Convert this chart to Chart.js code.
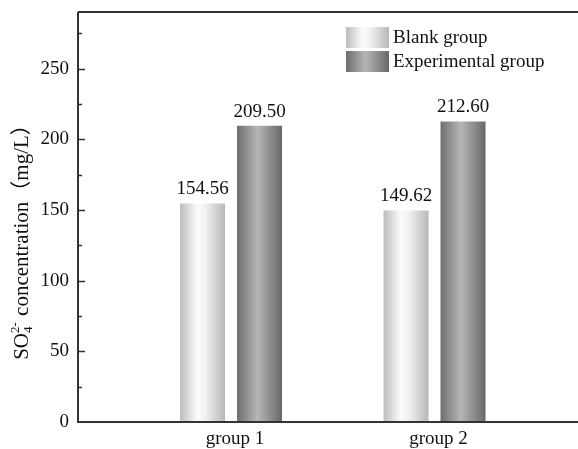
<!DOCTYPE html>
<html>
<head>
<meta charset="utf-8">
<script src="https://cdn.jsdelivr.net/npm/chart.js@4/dist/chart.umd.min.js"></script>
<style>
  html, body { margin: 0; padding: 0; background: #fff; }
  #wrap { position: relative; width: 578px; height: 449px; }
</style>
</head>
<body>
<div id="wrap"><canvas id="c"></canvas></div>
<script>
// Sulfate concentration per group
const categories = ['group 1', 'group 2'];
const seriesNames = ['Blank group', 'Experimental group'];
const blankValues = [154.56, 149.62];
const experimentalValues = [209.50, 212.60];
const yTickValues = [0, 50, 100, 150, 200, 250];

const FONT = '"Liberation Serif", "Times New Roman", "Noto Sans CJK SC", serif';
const FS = 19;
const AXIS_COLOR = '#333333';

// cylinder-like horizontal shading for each series
const shading = [
  [[0, '#bcbcbc'], [0.38, '#fbfbfb'], [0.55, '#f2f2f2'], [1, '#b8b8b8']],
  [[0, '#6e6e6e'], [0.45, '#b6b6b6'], [1, '#686868']]
];

function makeGradient(ctx, x0, x1, stops) {
  const g = ctx.createLinearGradient(x0, 0, x1, 0);
  stops.forEach(([o, c]) => g.addColorStop(o, c));
  return g;
}

const toPoints = vals => vals.map((v, i) => ({ x: i + 1, y: v }));

const barShading = {
  id: 'barShading',
  beforeDatasetsDraw(chart) {
    const ctx = chart.ctx;
    chart.data.datasets.forEach((ds, di) => {
      chart.getDatasetMeta(di).data.forEach(el => {
        const g = makeGradient(ctx, el.x - el.width / 2, el.x + el.width / 2, shading[di]);
        el.options = Object.assign({}, el.options, { backgroundColor: g });
      });
    });
  }
};

const frameAndLabels = {
  id: 'frameAndLabels',
  afterDraw(chart) {
    const { ctx, chartArea: a } = chart;
    const y = chart.scales.y;
    ctx.save();
    // frame: left axis, bottom axis, top line
    ctx.strokeStyle = AXIS_COLOR;
    ctx.lineWidth = 2;
    ctx.beginPath();
    ctx.moveTo(a.left, a.top); ctx.lineTo(a.right, a.top);
    ctx.moveTo(a.left, a.top); ctx.lineTo(a.left, a.bottom);
    ctx.moveTo(a.left - 1, a.bottom); ctx.lineTo(a.right, a.bottom);
    ctx.stroke();
    // inward ticks (major every 50, minor in between)
    ctx.lineWidth = 1.5;
    ctx.beginPath();
    for (let v = 25; v <= y.max; v += 25) {
      const py = Math.round(y.getPixelForValue(v)) + 0.5;
      const len = (v % 50 === 0) ? 7 : 4;
      ctx.moveTo(a.left, py); ctx.lineTo(a.left + len, py);
    }
    ctx.stroke();

    // value labels above bars
    ctx.fillStyle = '#111';
    ctx.font = FS + 'px ' + FONT;
    ctx.textAlign = 'center';
    ctx.textBaseline = 'alphabetic';
    chart.data.datasets.forEach((ds, di) => {
      chart.getDatasetMeta(di).data.forEach((el, i) => {
        ctx.fillText(ds.data[i].y.toFixed(2), el.x, el.y - 9);
      });
    });

    // legend
    const lx = 346, ly = 27, bw = 43, bh = 21, gap = 24;
    ctx.textAlign = 'left';
    ctx.textBaseline = 'middle';
    chart.data.datasets.forEach((ds, di) => {
      const top = ly + di * gap;
      ctx.fillStyle = makeGradient(ctx, lx, lx + bw, shading[di]);
      ctx.fillRect(lx, top, bw, bh);
      ctx.fillStyle = '#111';
      ctx.fillText(ds.label, lx + bw + 4, top + bh / 2 + 1);
    });

    // y-axis title with subscript / superscript
    const TS = 21, SS = 13;
    const main1 = 'SO', main2 = ' concentration\uFF08mg/L\uFF09';
    ctx.font = TS + 'px ' + FONT;
    const wSO = ctx.measureText(main1).width;
    const wRest = ctx.measureText(main2).width;
    ctx.font = SS + 'px ' + FONT;
    const wScript = Math.max(ctx.measureText('4').width, ctx.measureText('2-').width);
    const total = wSO + wScript + 1 + wRest;
    const cy = 237, base = 28;
    ctx.translate(0, cy);
    ctx.rotate(-Math.PI / 2);
    ctx.textAlign = 'left';
    ctx.textBaseline = 'alphabetic';
    ctx.fillStyle = '#111';
    let u = -total / 2;
    ctx.font = TS + 'px ' + FONT; ctx.fillText(main1, u, base); u += wSO;
    ctx.font = SS + 'px ' + FONT;
    ctx.fillText('4', u, base + 4);
    ctx.fillText('2-', u, base - 9);
    u += wScript + 1;
    ctx.font = TS + 'px ' + FONT; ctx.fillText(main2, u, base);
    ctx.restore();
  }
};

new Chart(document.getElementById('c'), {
  type: 'bar',
  data: {
    datasets: [
      { label: seriesNames[0], data: toPoints(blankValues), backgroundColor: '#dddddd', borderWidth: 0 },
      { label: seriesNames[1], data: toPoints(experimentalValues), backgroundColor: '#999999', borderWidth: 0 }
    ]
  },
  options: {
    responsive: true,
    maintainAspectRatio: false,
    animation: false,
    devicePixelRatio: 1,
    layout: { padding: { top: 12, right: 0, left: 0, bottom: 0 } },
    categoryPercentage: 0.56,
    barPercentage: 0.79,
    plugins: { legend: { display: false }, tooltip: { enabled: false } },
    scales: {
      x: {
        type: 'linear',
        offset: false,
        min: 0.248,
        max: 2.705,
        afterBuildTicks: s => { s.ticks = categories.map((c, i) => ({ value: i + 1 })); },
        afterFit: s => { s.height = 27; s.paddingLeft = 0; s.paddingRight = 0; },
        grid: { display: false, drawTicks: false },
        border: { display: false },
        ticks: {
          padding: 6,
          labelOffset: 4,
          color: '#111',
          font: { family: FONT, size: FS },
          callback: v => categories[v - 1]
        }
      },
      y: {
        min: 0,
        max: 290,
        afterBuildTicks: s => { s.ticks = yTickValues.map(v => ({ value: v })); },
        afterFit: s => { s.width = 78; s.paddingTop = 0; s.paddingBottom = 0; },
        grid: { display: false, drawTicks: false },
        border: { display: false },
        ticks: {
          padding: 9,
          color: '#111',
          font: { family: FONT, size: FS }
        }
      }
    }
  },
  plugins: [barShading, frameAndLabels]
});
</script>
</body>
</html>
